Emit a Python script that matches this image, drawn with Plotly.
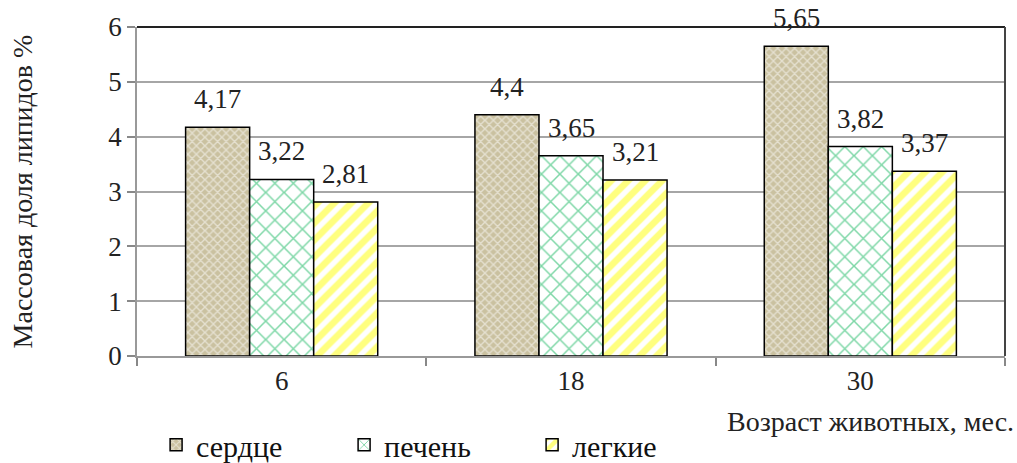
import plotly.graph_objects as go

categories = ["6", "18", "30"]
series_names = ["сердце", "печень", "легкие"]
heart = [4.17, 4.4, 5.65]
liver = [3.22, 3.65, 3.82]
lungs = [2.81, 3.21, 3.37]
y_ticks = [0, 1, 2, 3, 4, 5, 6]

FONT = "Liberation Serif"
FS = 27

styles = [
    dict(color="#CAC1A0", pattern=dict(shape="x", fgcolor="#FFFFFF", size=6, solidity=0.4)),
    dict(color="white", pattern=dict(shape="x", fgcolor="#00B050", size=13, solidity=0.22)),
    dict(color="white", pattern=dict(shape="/", fgcolor="#FFFF00", size=12, solidity=0.55)),
]

fig = go.Figure()
for name, vals, st in zip(series_names, [heart, liver, lungs], styles):
    fig.add_trace(go.Bar(
        x=categories, y=vals, name=name,
        marker=dict(color=st["color"], pattern=st["pattern"],
                    line=dict(color="black", width=1.5)),
        offsetgroup=name,
    ))

# data labels via annotations (comma decimal)
for i, vals in enumerate([heart, liver, lungs]):
    for j, v in enumerate(vals):
        fig.add_annotation(
            x=j, y=v, xref="x", yref="y",
            text=f"{v:g}".replace(".", ","),
            showarrow=False, yanchor="middle", yshift=28,
            xshift=(i - 1) * 64,
            font=dict(family=FONT, size=FS, color="#222"),
        )

fig.update_layout(
    width=1017, height=463,
    margin=dict(l=137, r=12, t=27, b=107, autoexpand=False),
    paper_bgcolor="white", plot_bgcolor="white",
    barmode="group", bargap=0.336, bargroupgap=0,
    font=dict(family=FONT, size=FS, color="#222"),
    showlegend=True,
    legend=dict(orientation="h", x=0.022, y=-0.27, xanchor="left", yanchor="middle",
                entrywidth=143, entrywidthmode="pixels", itemwidth=30,
                font=dict(family=FONT, size=30, color="#111")),
    xaxis=dict(type="category", tickson="boundaries", ticks="outside", ticklen=8,
               tickcolor="#888", tickwidth=1.5, showline=True, linecolor="#999", linewidth=1.5,
               showgrid=False, tickfont=dict(family=FONT, size=FS)),
    yaxis=dict(range=[0, 6], tickvals=y_ticks, ticks="outside", ticklen=8,
               tickcolor="#888", tickwidth=1.5, showline=True, linecolor="#999", linewidth=1.5,
               showgrid=True, gridcolor="#A6A6A6", gridwidth=1.5, zeroline=False,
               tickfont=dict(family=FONT, size=FS),
               title=dict(text="Массовая доля липидов %", font=dict(family=FONT, size=28), standoff=68)),
)

fig.add_annotation(xref="paper", yref="paper", x=1.013, y=-0.2, xanchor="right", yanchor="middle",
                   text="Возраст животных, мес.", showarrow=False,
                   font=dict(family=FONT, size=28, color="#222"))

# plot area top and right border
fig.add_shape(type="line", xref="paper", yref="paper", x0=0, x1=1, y0=1, y1=1,
              line=dict(color="#222", width=2))
fig.add_shape(type="line", xref="paper", yref="paper", x0=1, x1=1, y0=0, y1=1,
              line=dict(color="#444", width=2))

fig.write_html("out.html")
